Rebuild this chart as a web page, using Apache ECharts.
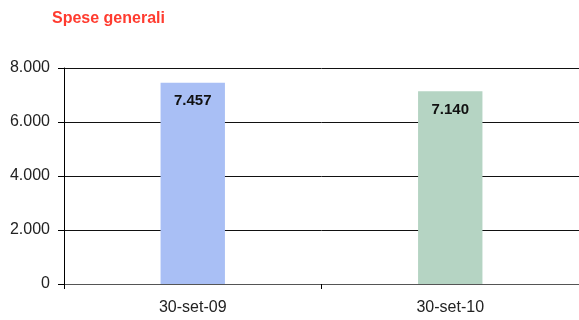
<!DOCTYPE html>
<html>
<head>
<meta charset="utf-8">
<script src="https://cdn.jsdelivr.net/npm/echarts@6/dist/echarts.min.js"></script>
<style>
  html, body { margin: 0; padding: 0; background: #fff; }
  #chart { width: 579px; height: 320px; }
</style>
</head>
<body>
<div id="chart"></div>
<script>
var categories = ['30-set-09', '30-set-10'];
var values = [7457, 7140];
var barColors = ['#a9bff5', '#b5d4c3'];

function fmtIt(v) {
  return String(v).replace(/\B(?=(\d{3})+(?!\d))/g, '.');
}

var chart = echarts.init(document.getElementById('chart'));
chart.setOption({
  animation: false,
  title: {
    text: 'Spese generali',
    left: 47, top: 6,
    textStyle: { color: '#ff3b2f', fontSize: 16, fontWeight: 'bold', fontFamily: 'Liberation Sans' }
  },
  grid: { left: 64, right: 0, top: 68, bottom: 36 },
  xAxis: {
    type: 'category',
    data: categories,
    axisLine: { lineStyle: { color: '#555', width: 1 } },
    axisTick: { show: true, length: 5, lineStyle: { color: '#000' } },
    axisLabel: { color: '#222', fontSize: 16, margin: 16, fontFamily: 'Liberation Sans' }
  },
  yAxis: {
    type: 'value',
    min: 0, max: 8000, interval: 2000,
    axisLine: { show: true, lineStyle: { color: '#000' } },
    axisTick: { show: true, length: 6, lineStyle: { color: '#000' } },
    splitLine: { lineStyle: { color: '#111', width: 1 } },
    axisLabel: { color: '#222', fontSize: 16, margin: 14, fontFamily: 'Liberation Sans', formatter: fmtIt }
  },
  series: [{
    type: 'bar',
    barWidth: '25%',
    data: values.map(function (v, i) { return { value: v, itemStyle: { color: barColors[i] } }; }),
    label: {
      show: true, position: 'insideTop', distance: 11,
      color: '#111', fontSize: 15, fontWeight: 'bold', fontFamily: 'Liberation Sans',
      formatter: function (p) { return fmtIt(p.value); }
    }
  }]
});
</script>
</body>
</html>
